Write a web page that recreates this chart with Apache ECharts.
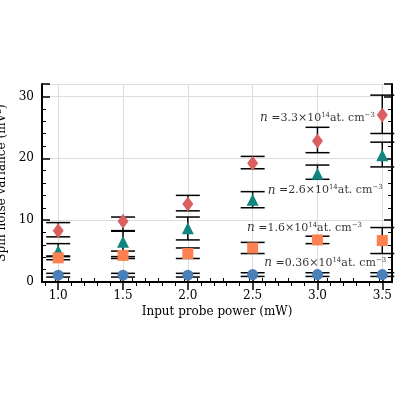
<!DOCTYPE html>
<html><head><meta charset="utf-8">
<script src="https://cdn.jsdelivr.net/npm/echarts@6/dist/echarts.min.js"></script>
<style>html,body{margin:0;padding:0;background:#fff}#c{width:400px;height:400px}</style>
</head><body><div id="c"></div>
<script>
// 自旋噪声方差 vs 探测功率
const powers = [1.0, 1.5, 2.0, 2.5, 3.0, 3.5];
const red = [8.3, 9.8, 12.6, 19.2, 22.8, 27.0];
const redLo = [7.3, 8.3, 11.5, 18.3, 20.9, 24.0];
const redHi = [9.6, 10.5, 14.0, 20.3, 25.0, 30.2];
const teal = [5.0, 6.5, 8.7, 13.3, 17.5, 20.5];
const tealLo = [4.1, 4.1, 6.8, 12.0, 16.6, 18.6];
const tealHi = [6.2, 8.2, 10.5, 14.6, 18.9, 22.6];
const orange = [3.9, 4.3, 4.6, 5.5, 6.8, 6.7];
const orangeLo = [3.6, 3.8, 3.8, 4.6, 6.2, 4.6];
const orangeHi = [4.2, 5.0, 5.5, 6.4, 7.4, 8.8];
const blue = [1.1, 1.1, 1.1, 1.2, 1.2, 1.2];
const blueLo = [0.8, 0.8, 0.8, 0.9, 0.9, 0.9];
const blueHi = [1.4, 1.4, 1.4, 1.5, 1.5, 1.5];
const labels = [
  {x: 3.0, y: 26.5, n: '3.3'},
  {x: 3.06, y: 14.8, n: '2.6'},
  {x: 2.9, y: 8.7, n: '1.6'},
  {x: 3.06, y: 3.1, n: '0.36'}
];

const font = 'DejaVu Serif';
const chart = echarts.init(document.getElementById('c'));

function errSeries(lo, hi) {
  return {
    type: 'custom',
    data: powers.map((p, i) => [p, lo[i], hi[i]]),
    z: 1,
    renderItem: function(params, api) {
      const a = api.coord([api.value(0), api.value(1)]);
      const b = api.coord([api.value(0), api.value(2)]);
      const w = 12;
      const st = {stroke: '#000', lineWidth: 1.5};
      return {type: 'group', children: [
        {type: 'line', shape: {x1: a[0], y1: a[1], x2: b[0], y2: b[1]}, style: st},
        {type: 'line', shape: {x1: a[0] - w, y1: a[1], x2: a[0] + w, y2: a[1]}, style: st},
        {type: 'line', shape: {x1: b[0] - w, y1: b[1], x2: b[0] + w, y2: b[1]}, style: st}
      ]};
    }
  };
}
function pts(vals, color, symbol, size) {
  return {type: 'scatter', data: powers.map((p, i) => [p, vals[i]]), symbol: symbol,
    symbolSize: size, itemStyle: {color: color, opacity: 1}, z: 3};
}

const line = {lineStyle: {color: '#000', width: 2}};
const tick = {inside: true, length: 8, lineStyle: {color: '#000', width: 1.5}};
const minor = {show: true, splitNumber: 5, length: 4, lineStyle: {color: '#000'}};

chart.setOption({
  animation: false,
  grid: {left: 42, right: 8, top: 84, bottom: 118, outerBoundsMode: 'none'},
  xAxis: [
    {type: 'value', min: 0.875, max: 3.575, interval: 0.5,
      name: 'Input probe power (mW)', nameLocation: 'middle', nameGap: 24,
      nameTextStyle: {fontFamily: font, fontSize: 12, color: '#000'},
      axisLabel: {fontFamily: font, fontSize: 12, color: '#000', margin: 8,
        customValues: powers, formatter: v => v.toFixed(1)},
      axisLine: line,
      axisTick: Object.assign({customValues: powers}, tick),
      minorTick: minor,
      splitLine: {show: true, lineStyle: {color: '#ddd'}}},
    {type: 'value', min: 0.875, max: 3.575, position: 'top',
      axisLine: line, axisLabel: {show: false},
      axisTick: Object.assign({customValues: powers}, tick),
      minorTick: minor, splitLine: {show: false}}
  ],
  yAxis: [
    {type: 'value', min: 0, max: 32, interval: 10,
      name: 'Spin noise variance (mV²)', nameLocation: 'middle', nameGap: 24,
      nameTextStyle: {fontFamily: font, fontSize: 12, color: '#000'},
      axisLabel: {fontFamily: font, fontSize: 12, color: '#000', showMaxLabel: false},
      axisLine: line, axisTick: tick, minorTick: minor,
      splitLine: {show: true, lineStyle: {color: '#ddd'}}},
    {type: 'value', min: 0, max: 32, interval: 10, position: 'right',
      axisLabel: {show: false}, splitLine: {show: false},
      axisLine: line, axisTick: tick, minorTick: minor}
  ],
  series: [
    errSeries(redLo, redHi), errSeries(tealLo, tealHi),
    errSeries(orangeLo, orangeHi), errSeries(blueLo, blueHi),
    pts(red, '#d9605f', 'diamond', [11, 15]),
    pts(teal, '#138580', 'triangle', 12),
    pts(orange, '#fc8050', 'rect', 11),
    pts(blue, '#4a80b8', 'circle', 11),
    {type: 'scatter', symbolSize: 0, z: 5, silent: true,
      data: labels.map(l => ({value: [l.x, l.y], n: l.n})),
      label: {show: true, position: 'inside',
        formatter: p => '{i|n} =' + p.data.n + '×10{s|14}at. cm{s|−3}',
        fontFamily: font, fontSize: 11, color: '#000',
        rich: {i: {fontStyle: 'italic', fontFamily: font, fontSize: 12},
          s: {fontSize: 7, verticalAlign: 'top', padding: [0, 0, 6, 0], fontFamily: font}}}}
  ]
});
</script></body></html>
